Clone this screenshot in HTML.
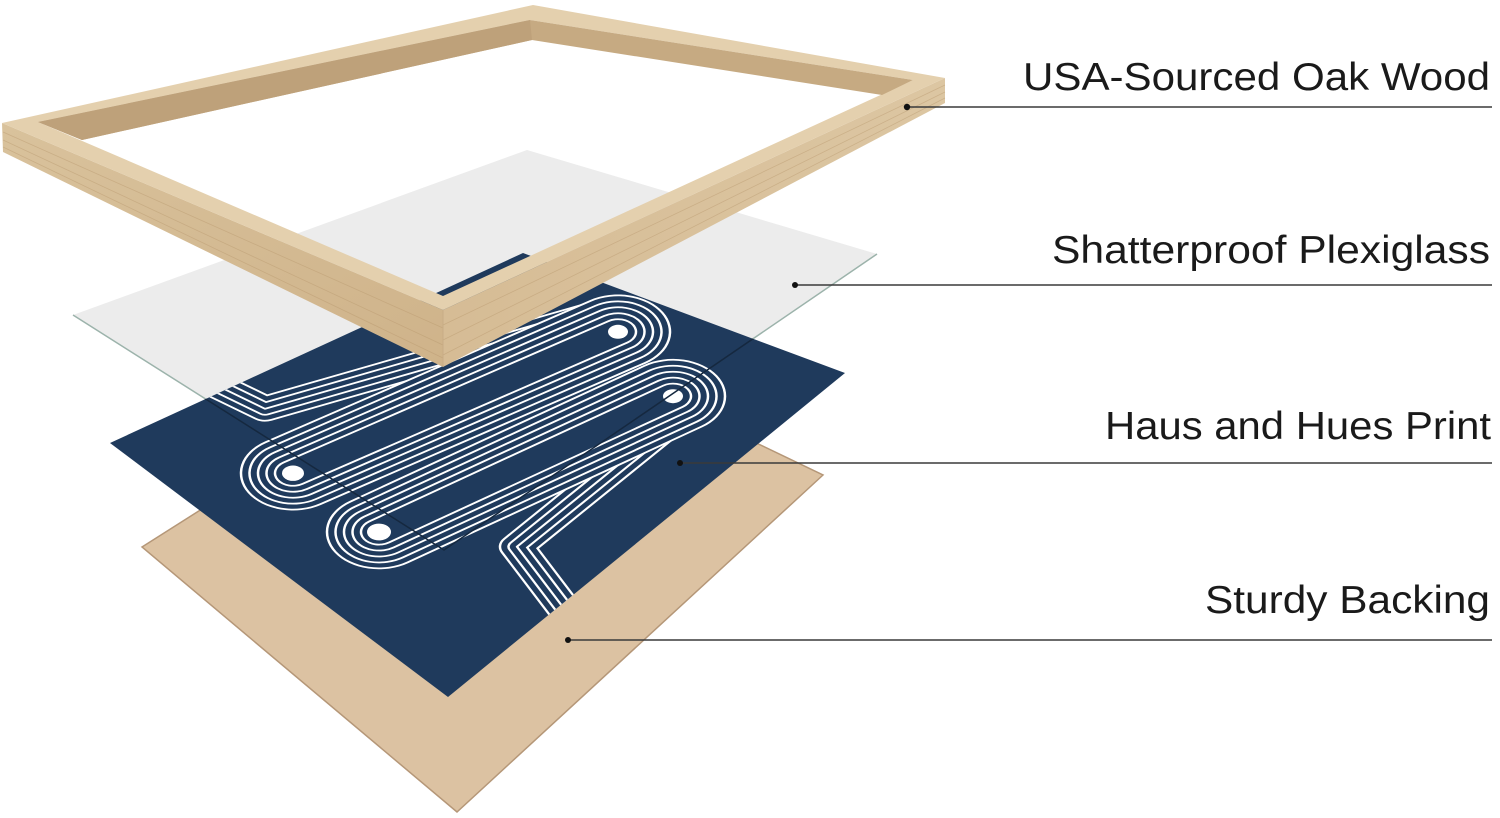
<!DOCTYPE html>
<html><head><meta charset="utf-8"><style>
html,body{margin:0;padding:0;background:#fff;width:1500px;height:818px;overflow:hidden}
svg{display:block}
text{font-family:"Liberation Sans",sans-serif;font-size:39px;fill:#1a1a1a}
</style></head><body>
<svg width="1500" height="818" viewBox="0 0 1500 818" xmlns="http://www.w3.org/2000/svg">
<defs>
<clipPath id="pc"><polygon points="110,443 523,253 845,373 448,697"/></clipPath>
<linearGradient id="wood1" x1="0" y1="0" x2="1" y2="1"><stop offset="0" stop-color="#d9c29c"/><stop offset="1" stop-color="#cfb38a"/></linearGradient>
<linearGradient id="wood2" x1="0" y1="0" x2="1" y2="0"><stop offset="0" stop-color="#d6bc95"/><stop offset="1" stop-color="#dcc6a2"/></linearGradient>
</defs>

<!-- backing -->
<polygon points="142,547 500,320 823,475 457,812" fill="#dcc2a2" stroke="#b59778" stroke-width="1.5"/>

<!-- glass -->
<polygon points="73,315 527,150 877,254 444,550" fill="#ececec"/>
<polyline points="73,315 444,550 877,254" fill="none" stroke="#9cb3ab" stroke-width="1.5"/>

<!-- print -->
<polygon points="110,443 523,253 845,373 448,697" fill="#1f3a5c"/>
<g clip-path="url(#pc)">
 <g transform="scale(1,0.7)" fill="none" stroke-linecap="round" stroke-linejoin="round">
  <g>
   <polyline points="200,539 265,584 618,439" stroke="#fff" stroke-width="36.5"/>
   <polyline points="200,539 265,584 618,439" stroke="#1f3a5c" stroke-width="31.5"/>
   <polyline points="200,539 265,584 618,439" stroke="#fff" stroke-width="19.5"/>
   <polyline points="200,539 265,584 618,439" stroke="#1f3a5c" stroke-width="14.5"/>
   <polyline points="200,539 265,584 618,439" stroke="#fff" stroke-width="2.5"/>
  </g>
  <g>
   <polyline points="673,601 517,781 575,890" stroke="#fff" stroke-width="36.5"/>
   <polyline points="673,601 517,781 575,890" stroke="#1f3a5c" stroke-width="31.5"/>
   <polyline points="673,601 517,781 575,890" stroke="#fff" stroke-width="19.5"/>
   <polyline points="673,601 517,781 575,890" stroke="#1f3a5c" stroke-width="14.5"/>
   <polyline points="673,601 517,781 575,890" stroke="#fff" stroke-width="2.5"/>
  </g>
  <g>
   <line x1="618" y1="474" x2="293" y2="676" stroke="#fff" stroke-width="106.5"/>
   <line x1="618" y1="474" x2="293" y2="676" stroke="#1f3a5c" stroke-width="101.5"/>
   <line x1="618" y1="474" x2="293" y2="676" stroke="#fff" stroke-width="89.5"/>
   <line x1="618" y1="474" x2="293" y2="676" stroke="#1f3a5c" stroke-width="84.5"/>
   <line x1="618" y1="474" x2="293" y2="676" stroke="#fff" stroke-width="72.5"/>
   <line x1="618" y1="474" x2="293" y2="676" stroke="#1f3a5c" stroke-width="67.5"/>
   <line x1="618" y1="474" x2="293" y2="676" stroke="#fff" stroke-width="55.5"/>
   <line x1="618" y1="474" x2="293" y2="676" stroke="#1f3a5c" stroke-width="50.5"/>
   <line x1="618" y1="474" x2="293" y2="676" stroke="#fff" stroke-width="38.5"/>
   <line x1="618" y1="474" x2="293" y2="676" stroke="#1f3a5c" stroke-width="33.5"/>
  </g>
  <g>
   <line x1="673" y1="566" x2="379" y2="760" stroke="#fff" stroke-width="106.5"/>
   <line x1="673" y1="566" x2="379" y2="760" stroke="#1f3a5c" stroke-width="101.5"/>
   <line x1="673" y1="566" x2="379" y2="760" stroke="#fff" stroke-width="89.5"/>
   <line x1="673" y1="566" x2="379" y2="760" stroke="#1f3a5c" stroke-width="84.5"/>
   <line x1="673" y1="566" x2="379" y2="760" stroke="#fff" stroke-width="72.5"/>
   <line x1="673" y1="566" x2="379" y2="760" stroke="#1f3a5c" stroke-width="67.5"/>
   <line x1="673" y1="566" x2="379" y2="760" stroke="#fff" stroke-width="55.5"/>
   <line x1="673" y1="566" x2="379" y2="760" stroke="#1f3a5c" stroke-width="50.5"/>
   <line x1="673" y1="566" x2="379" y2="760" stroke="#fff" stroke-width="38.5"/>
   <line x1="673" y1="566" x2="379" y2="760" stroke="#1f3a5c" stroke-width="33.5"/>
  </g>
  <g fill="#fff" stroke="none">
   <circle cx="618" cy="474" r="10"/><circle cx="293" cy="676" r="11"/>
   <circle cx="673" cy="566" r="10"/><circle cx="379" cy="760" r="12"/>
  </g>
 </g>
 <polyline points="73,315 444,550 877,254" fill="none" stroke="#15283f" stroke-width="1.5"/>
</g>

<!-- frame -->
<polygon points="2,123 443,310 443,367 3,152" fill="url(#wood1)"/>
<polygon points="443,310 945,78 945,103 443,367" fill="url(#wood2)"/>
<g stroke="#b8986e" stroke-width="0.8" opacity="0.45">
 <line x1="3" y1="132" x2="443" y2="328"/><line x1="3" y1="140" x2="443" y2="345"/><line x1="3" y1="147" x2="443" y2="358"/>
 <line x1="443" y1="325" x2="945" y2="85"/><line x1="443" y1="340" x2="945" y2="92"/><line x1="443" y1="355" x2="945" y2="98"/>
</g>
<line x1="443" y1="310" x2="443" y2="367" stroke="#c8ad86" stroke-width="1"/>
<path d="M2,123 L533,5 L945,78 L443,310 Z M38,122 L443,296 L913,80 L530,20 Z" fill="#e4d0ae" fill-rule="evenodd"/>
<polygon points="38,122 530,20 913,80 882,95 532,40 82,140" fill="#c6aa82"/>
<polygon points="38,122 530,20 532,40 82,140" fill="#bea17a"/>

<!-- callouts -->
<g stroke="#3a3a3a" stroke-width="1.5">
 <line x1="907" y1="107" x2="1492" y2="107"/>
 <line x1="795" y1="285" x2="1492" y2="285"/>
 <line x1="680" y1="463" x2="1492" y2="463"/>
 <line x1="568" y1="640" x2="1492" y2="640"/>
</g>
<g fill="#111">
 <circle cx="907" cy="107" r="3.2"/><circle cx="795" cy="285" r="3"/>
 <circle cx="680" cy="463" r="3"/><circle cx="568" cy="640" r="3"/>
</g>
<text x="1023" y="90" textLength="467" lengthAdjust="spacingAndGlyphs">USA-Sourced Oak Wood</text>
<text x="1052" y="263" textLength="438" lengthAdjust="spacingAndGlyphs">Shatterproof Plexiglass</text>
<text x="1105" y="439" textLength="386" lengthAdjust="spacingAndGlyphs">Haus and Hues Print</text>
<text x="1205" y="613" textLength="285" lengthAdjust="spacingAndGlyphs">Sturdy Backing</text>
</svg>
</body></html>
